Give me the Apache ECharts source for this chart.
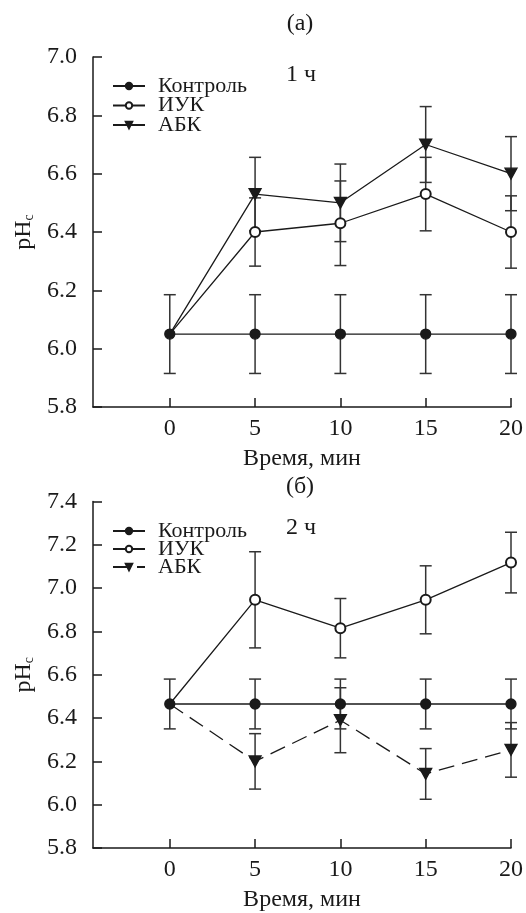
<!DOCTYPE html>
<html>
<head>
<meta charset="utf-8">
<script src="https://cdn.jsdelivr.net/npm/echarts@6/dist/echarts.min.js"></script>
<style>
  html, body { margin: 0; padding: 0; background: #fff; }
  #main { width: 526px; height: 913px; }
</style>
</head>
<body>
<div id="main"></div>
<script>
// время, мин
var time = [0, 5, 10, 15, 20];
var xTicks = [0, 5, 10, 15, 20];

// (а) 1 ч
var ctrl1 = [6.05, 6.05, 6.05, 6.05, 6.05];
var ctrl1Err = [0.135, 0.135, 0.135, 0.135, 0.135];
var iuk1 = [6.05, 6.40, 6.43, 6.53, 6.40];
var iuk1Err = [0, 0.117, 0.145, 0.126, 0.124];
var abk1 = [6.05, 6.53, 6.50, 6.70, 6.60];
var abk1Err = [0, 0.126, 0.133, 0.13, 0.127];

// (б) 2 ч
var ctrl2 = [6.465, 6.465, 6.465, 6.465, 6.465];
var ctrl2Err = [0.115, 0.115, 0.115, 0.115, 0.115];
var iuk2 = [6.465, 6.946, 6.815, 6.946, 7.118];
var iuk2Err = [0, 0.222, 0.137, 0.157, 0.14];
var abk2 = [6.465, 6.20, 6.39, 6.142, 6.253];
var abk2Err = [0, 0.128, 0.15, 0.117, 0.126];

var FONT = 'Liberation Serif';
var INK = '#1a1a1a';
var TRI = 'path://M0,0 L10,0 L5,9 Z';

function pts(v) { return time.map(function (t, i) { return [t, v[i]]; }); }
function errPts(v, e) { return time.map(function (t, i) { return [t, v[i], e[i]]; }); }

function errBars(name, v, e, gi) {
  return {
    name: name, type: 'custom', xAxisIndex: gi, yAxisIndex: gi, z: 1,
    encode: { x: 0, y: 1 },
    data: errPts(v, e),
    renderItem: function (params, api) {
      var x = api.value(0), y = api.value(1), d = api.value(2);
      if (!d) return;
      var a = api.coord([x, y + d]), b = api.coord([x, y - d]);
      var w = 6, st = { stroke: '#333', lineWidth: 1.5 };
      return { type: 'group', children: [
        { type: 'line', shape: { x1: a[0], y1: a[1], x2: b[0], y2: b[1] }, style: st },
        { type: 'line', shape: { x1: a[0] - w, y1: a[1], x2: a[0] + w, y2: a[1] }, style: st },
        { type: 'line', shape: { x1: b[0] - w, y1: b[1], x2: b[0] + w, y2: b[1] }, style: st }
      ]};
    }
  };
}

// общая точка t=0 показана маркером контроля
function lineSeries(name, v, gi, symbol, dashed, z) {
  var size = symbol === TRI ? [12, 11] : 10;
  var hideFirst = symbol !== 'circle';
  return {
    name: name, type: 'line', xAxisIndex: gi, yAxisIndex: gi, z: z,
    data: pts(v),
    symbol: symbol,
    symbolSize: function (val, p) { return hideFirst && p.dataIndex === 0 ? 0 : size; },
    showAllSymbol: true,
    itemStyle: { color: INK, borderColor: INK, borderWidth: 1.3 },
    lineStyle: { color: INK, width: 1.3, type: dashed ? [16, 8] : 'solid' },
    emphasis: { disabled: true }
  };
}

function xAxis(gi) {
  return {
    gridIndex: gi, type: 'value', min: -4.5, max: 20,
    name: 'Время, мин', nameLocation: 'middle', nameGap: 40,
    nameTextStyle: { fontFamily: FONT, fontSize: 24, color: INK },
    axisLine: { onZero: false, lineStyle: { color: INK, width: 1.5 } },
    axisTick: { inside: true, length: 9, customValues: xTicks, lineStyle: { color: INK, width: 1.5 } },
    axisLabel: { customValues: xTicks, margin: 10, fontFamily: FONT, fontSize: 24, color: INK },
    splitLine: { show: false }
  };
}

function yAxis(gi, max) {
  return {
    gridIndex: gi, type: 'value', min: 5.8, max: max, interval: 0.2,
    name: '{a|pH}{b|c}', nameLocation: 'middle', nameGap: 56,
    nameTextStyle: {
      rich: {
        a: { fontFamily: FONT, fontSize: 24, color: INK },
        b: { fontFamily: FONT, fontSize: 14, color: INK, verticalAlign: 'bottom', padding: [10, 0, 0, 0] }
      }
    },
    axisLine: { show: true, onZero: false, lineStyle: { color: INK, width: 1.5 } },
    axisTick: { inside: true, length: 9, lineStyle: { color: INK, width: 1.5 } },
    axisLabel: { margin: 16, fontFamily: FONT, fontSize: 24, color: INK,
      formatter: function (v) { return v.toFixed(1); } },
    splitLine: { show: false }
  };
}

function legend(top, names, gap) {
  return {
    orient: 'vertical', left: 112, top: top, itemGap: gap, padding: 0,
    itemWidth: 32, itemHeight: 8,
    data: names,
    formatter: function (n) { return n.split('·')[0]; },
    textStyle: { fontFamily: FONT, fontSize: 22, color: INK, padding: [0, 0, 0, 8] },
    selectedMode: false
  };
}

function label(text, x, y, size) {
  return { type: 'text', x: x, y: y,
    style: { text: text, font: size + 'px "' + FONT + '"', fill: INK, align: 'center', verticalAlign: 'middle' } };
}

var chart = echarts.init(document.getElementById('main'));
chart.setOption({
  animation: false,
  backgroundColor: '#fff',
  grid: [
    { left: 93, right: 13, top: 57, height: 350 },
    { left: 93, right: 13, top: 501.5, height: 351 }
  ],
  xAxis: [xAxis(0), xAxis(1)],
  yAxis: [yAxis(0, 7.0), yAxis(1, 7.4)],
  legend: [
    legend(75, ['Контроль', 'ИУК', 'АБК'], -2.5),
    legend(520, ['Контроль·2', 'ИУК·2', 'АБК·2'], -4)
  ],
  graphic: [
    label('(а)', 300, 24, 24),
    label('1 ч', 301, 75, 24),
    label('(б)', 300, 487, 24),
    label('2 ч', 301, 528, 24)
  ],
  series: [
    errBars('e1', ctrl1, ctrl1Err, 0),
    errBars('e2', iuk1, iuk1Err, 0),
    errBars('e3', abk1, abk1Err, 0),
    lineSeries('Контроль', ctrl1, 0, 'circle', false, 4),
    lineSeries('ИУК', iuk1, 0, 'emptyCircle', false, 3),
    lineSeries('АБК', abk1, 0, TRI, false, 3),
    errBars('e4', ctrl2, ctrl2Err, 1),
    errBars('e5', iuk2, iuk2Err, 1),
    errBars('e6', abk2, abk2Err, 1),
    lineSeries('Контроль·2', ctrl2, 1, 'circle', false, 4),
    lineSeries('ИУК·2', iuk2, 1, 'emptyCircle', false, 3),
    lineSeries('АБК·2', abk2, 1, TRI, true, 3)
  ]
});
</script>
</body>
</html>
